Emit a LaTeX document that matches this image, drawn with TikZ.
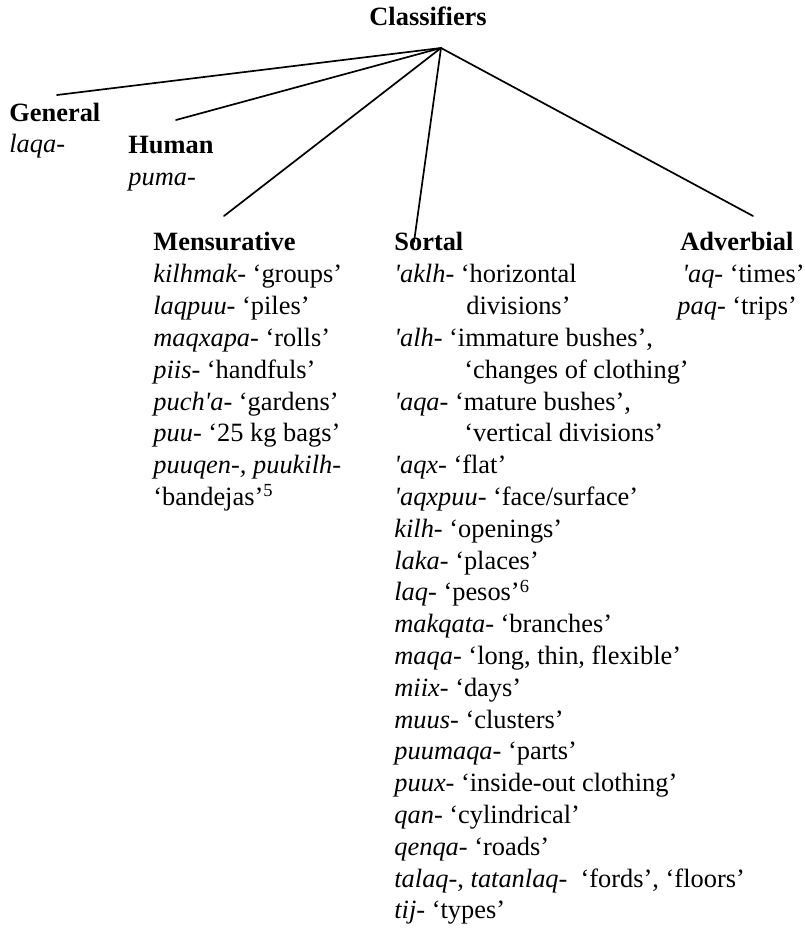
\documentclass[tikz,border=0pt]{standalone}
\usepackage{fontspec}
\setmainfont{Liberation Serif}
\newcommand{\clsfont}{\fontsize{13.2}{15.9}\selectfont}
\newcommand{\sq}{\textquotesingle}
\tikzset{
  head/.style={anchor=base west,inner sep=0pt,font=\clsfont\bfseries},
  item/.style={anchor=base west,inner sep=0pt,font=\clsfont},
  branch/.style={line width=0.85pt,color=black}
}

\begin{document}
\begin{tikzpicture}[x=0.5pt,y=-0.5pt,line cap=round,line join=round]
        \useasboundingbox (0,0) rectangle (804,930);
        % headings
        \node[head] (classifiers) at (369,26) {Classifiers};
        \node[head] (general) at (9,122) {General};
        \node[item] (general-1) at (9,153) {\textit{laqa}-};
        \node[head] (human) at (128,154) {Human};
        \node[item] (human-1) at (128,186) {\textit{puma}-};
        \node[head] (mensurative) at (153,251) {Mensurative};
        \node[head] (sortal) at (394,251) {Sortal};
        \node[head] (adverbial) at (680,251) {Adverbial};
        % branches
        \coordinate (top) at (441,48);
        \coordinate (general-end) at (57,95);
        \coordinate (human-end) at (176,120);
        \coordinate (mensurative-end) at (224,216);
        \coordinate (sortal-end) at (414,242);
        \coordinate (adverbial-end) at (753,216);
        \foreach \c in {general,human,mensurative,sortal,adverbial}
          \draw[branch] (top) -- (\c-end);
        % mensurative
        \foreach \txt [count=\i] in {
            {\textit{kilhmak}- ‘groups’},
            {\textit{laqpuu}- ‘piles’},
            {\textit{maqxapa}- ‘rolls’},
            {\textit{piis}- ‘handfuls’},
            {\textit{puch\sq a}- ‘gardens’},
            {\textit{puu}- ‘25 kg bags’},
            {\textit{puuqen-, puukilh}-},
            {‘bandejas’\textsuperscript{5}}}
          \node[item] (mensurative-\i) at (153,251+\i*31.8) {\txt};
        % sortal
        \foreach \txt [count=\i] in {
            {\textit{\sq aklh}- ‘horizontal},
            {\hspace*{36pt}divisions’},
            {\textit{\sq alh}- ‘immature bushes’,},
            {\hspace*{35pt}‘changes of clothing’},
            {\textit{\sq aqa}- ‘mature bushes’,},
            {\hspace*{35pt}‘vertical divisions’},
            {\textit{\sq aqx}- ‘flat’},
            {\textit{\sq aqxpuu}- ‘face/surface’},
            {\textit{kilh}- ‘openings’},
            {\textit{laka}- ‘places’},
            {\textit{laq}- ‘pesos’\textsuperscript{6}},
            {\textit{makqata}- ‘branches’},
            {\textit{maqa}- ‘long, thin, flexible’},
            {\textit{miix}- ‘days’},
            {\textit{muus}- ‘clusters’},
            {\textit{puumaqa}- ‘parts’},
            {\textit{puux}- ‘inside-out clothing’},
            {\textit{qan}- ‘cylindrical’},
            {\textit{qenqa}- ‘roads’},
            {\textit{talaq-}, \textit{tatanlaq-}\ \ ‘fords’, ‘floors’},
            {\textit{tij}- ‘types’}}
          \node[item] (sortal-\i) at (394,251+\i*31.8) {\txt};
        % adverbial
        \node[item] (adverbial-1) at (682,282.8) {\textit{\sq aq}- ‘times’};
        \node[item] (adverbial-2) at (677,314.6) {\textit{paq}- ‘trips’};
\end{tikzpicture}
\end{document}
